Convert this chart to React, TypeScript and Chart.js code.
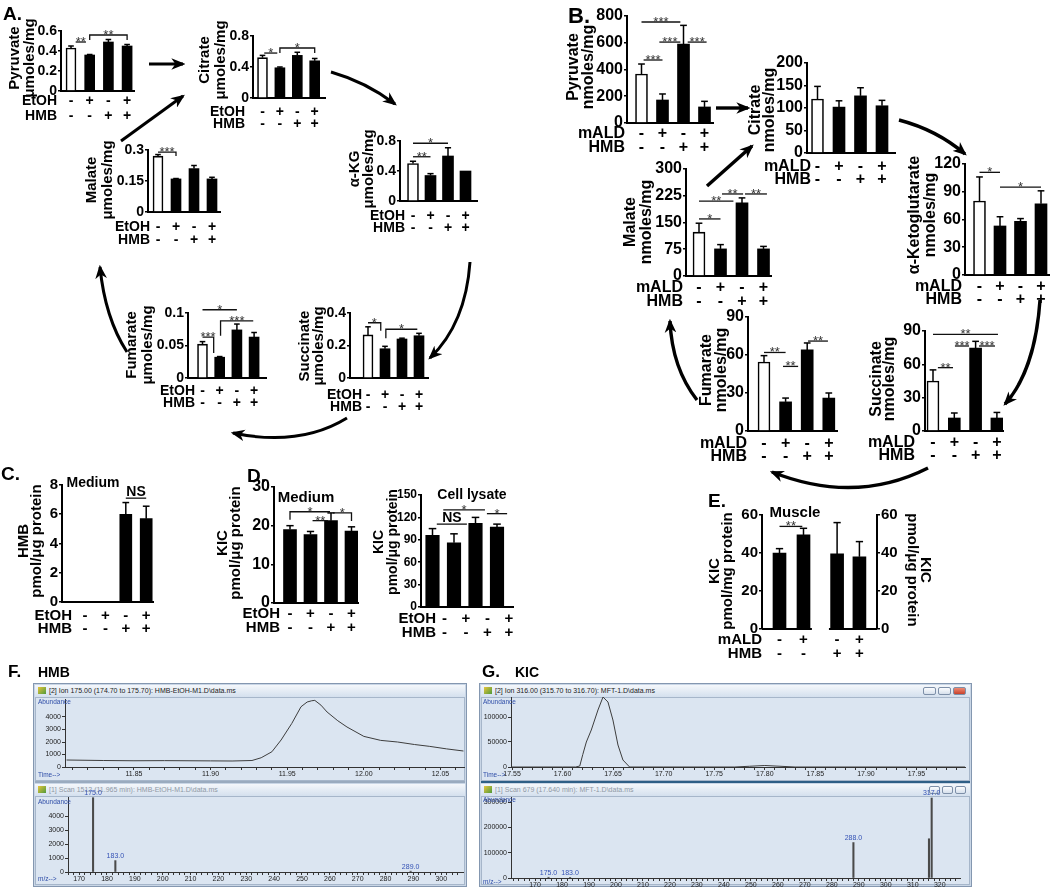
import React, { useEffect, useRef } from 'react';
import { Chart, registerables } from 'chart.js';

Chart.register(...registerables);

const FONT = '"Liberation Sans", Arial, Helvetica, sans-serif';
Chart.defaults.font.family = FONT;
const W = '#ffffff';
const K = '#000000';

// ---------------- data ----------------
const ETOH = ['-', '+', '-', '+'];
const HMB = ['-', '-', '+', '+'];
const MALD = ['-', '+', '-', '+'];

const A_PYRUVATE = [0.43, 0.36, 0.49, 0.45];
const A_PYRUVATE_ERR = [0.02, 0.005, 0.025, 0.015];
const A_CITRATE = [0.52, 0.39, 0.55, 0.48];
const A_CITRATE_ERR = [0.03, 0.01, 0.04, 0.03];
const A_AKG = [0.5, 0.34, 0.6, 0.4];
const A_AKG_ERR = [0.03, 0.025, 0.11, 0];
const A_MALATE = [0.27, 0.16, 0.21, 0.16];
const A_MALATE_ERR = [0.008, 0.002, 0.015, 0.008];
const A_FUMARATE = [0.052, 0.032, 0.074, 0.063];
const A_FUMARATE_ERR = [0.004, 0.001, 0.009, 0.007];
const A_SUCCINATE = [0.265, 0.18, 0.24, 0.26];
const A_SUCCINATE_ERR = [0.05, 0.015, 0.005, 0.015];

const B_PYRUVATE = [366, 172, 590, 120];
const B_PYRUVATE_ERR = [75, 45, 140, 42];
const B_CITRATE = [120, 102, 127, 105];
const B_CITRATE_ERR = [28, 14, 18, 12];
const B_AKG = [80, 53, 58, 77];
const B_AKG_ERR = [26, 10, 3, 14];
const B_MALATE = [123, 76, 205, 76];
const B_MALATE_ERR = [25, 12, 14, 7];
const B_FUMARATE = [54.5, 23, 64, 26];
const B_FUMARATE_ERR = [5, 3, 5.5, 4];
const B_SUCCINATE = [45, 11.7, 74.7, 11.7];
const B_SUCCINATE_ERR = [10, 4.5, 6, 5];

const C_HMB = [0, 0, 6.0, 5.7];
const C_HMB_ERR = [0, 0, 0.8, 0.85];
const D_KIC_MEDIUM = [19, 17.7, 21.3, 18.6];
const D_KIC_MEDIUM_ERR = [1, 0.8, 2, 1.1];
const D_KIC_LYSATE = [96, 86, 112, 107];
const D_KIC_LYSATE_ERR = [9, 12, 8, 4];
const E_KIC_MUSCLE = [40, 49.5, 39.5, 38];
const E_KIC_MUSCLE_ERR = [2.3, 3.5, 16.5, 8];

const F_TIC_TIME = [11.806, 11.83, 11.85, 11.87, 11.9, 11.914, 11.927, 11.933, 11.94, 11.946, 11.953, 11.959, 11.963, 11.966, 11.968, 11.972, 11.976, 11.983, 11.989, 12.0, 12.011, 12.022, 12.033, 12.043, 12.054, 12.065];
const F_TIC_ABUND = [560, 520, 500, 510, 490, 480, 520, 740, 1220, 2160, 3490, 4820, 5200, 5300, 5330, 4950, 4400, 3700, 3200, 2450, 2130, 2000, 1800, 1650, 1450, 1280];
const F_TIC_YTICKS = [0, 1000, 2000, 3000, 4000];
const F_MS_MZ = [175, 183, 289];
const F_MS_INT = [5350, 820, 60];
const F_MS_LABEL = ['175.0', '183.0', '289.0'];
const F_MS_YTICKS = [0, 1000, 2000, 3000, 4000];

const G_TIC_TIME = [17.549, 17.6, 17.613, 17.617, 17.62, 17.6235, 17.6284, 17.635, 17.64, 17.6449, 17.6498, 17.6548, 17.6597, 17.6663, 17.7, 17.77, 17.785, 17.8, 17.815, 17.83, 17.9, 17.998];
const G_TIC_ABUND = [0, 0, 0, 2000, 25000, 50000, 74000, 114000, 140000, 130000, 94000, 44000, 14000, 0, 0, 0, 1500, 3000, 1500, 0, 0, 0];
const G_TIC_YTICKS = [0, 50000, 100000];
const G_MS_MZ = [175, 183, 288, 316, 317];
const G_MS_INT = [3000, 2500, 140000, 155000, 316000];
const G_MS_LABEL = ['175.0', '183.0', '288.0', '', '317.0'];
const G_MS_YTICKS = [0, 100000, 200000, 300000];

// ---------------- layout ----------------
const X4 = [0, 1, 2, 3];
const E_XPOS = [0, 1, 2.4, 3.33];

type Bracket = { a: number; b: number; y: number; t: string; dl?: number; dr?: number };
type TitleSpec = { lines: string[]; xs: number[]; yc: number; size: number };
type Rows = { labels: string[]; signs: string[][]; ys: number[]; right: number; size: number; dx?: number };
type Panel = {
  area: number[];
  c0: number;
  u: number;
  xpos: number[];
  yMax: number;
  yStep: number;
  values: number[];
  errors: number[];
  fills: string[];
  barW: number;
  tick: number;
  title: TitleSpec;
  title2?: TitleSpec;
  rows: Rows;
  brackets: Bracket[];
  notes?: { t: string; x: number; y: number; size: number }[];
  segs?: number[][];
};

const rowsE = (size: number, ys: number[], right: number, dx = 0): Rows => ({ labels: ['EtOH', 'HMB'], signs: [ETOH, HMB], ys, right, size, dx });
const rowsM = (size: number, ys: number[], right: number, dx = 0): Rows => ({ labels: ['mALD', 'HMB'], signs: [MALD, HMB], ys, right, size, dx });
const WK = [W, K, K, K];
const KK = [K, K, K, K];

const PANELS: Panel[] = [
  {
    area: [61, 31, 134, 91], c0: 71, u: 18.7, xpos: X4, yMax: 0.6, yStep: 0.2,
    values: A_PYRUVATE, errors: A_PYRUVATE_ERR, fills: WK, barW: 10, tick: 14,
    title: { lines: ['Pyruvate', 'μmoles/mg'], xs: [15, 30], yc: 58, size: 15 },
    rows: rowsE(14, [101, 116], 57),
    brackets: [{ a: 0.25, b: 0.8, y: 0.49, t: '**' }, { a: 1, b: 3, y: 0.56, t: '**', dl: 5, dr: 5 }],
  },
  {
    area: [253, 36, 325, 98], c0: 262.5, u: 17.4, xpos: X4, yMax: 0.8, yStep: 0.4,
    values: A_CITRATE, errors: A_CITRATE_ERR, fills: WK, barW: 10, tick: 14,
    title: { lines: ['Citrate', 'μmoles/mg'], xs: [205, 221], yc: 60, size: 15 },
    rows: rowsE(14, [112, 124], 245),
    brackets: [{ a: 0.1, b: 0.85, y: 0.58, t: '*' }, { a: 1, b: 3, y: 0.645, t: '*', dl: 5, dr: 5 }],
  },
  {
    area: [400, 141, 477, 201], c0: 413, u: 17.5, xpos: X4, yMax: 0.8, yStep: 0.4,
    values: A_AKG, errors: A_AKG_ERR, fills: WK, barW: 11, tick: 14,
    title: { lines: ['α-KG', 'μmoles/mg'], xs: [355, 369], yc: 169, size: 15 },
    rows: rowsE(14, [216, 228], 405),
    brackets: [{ a: 0, b: 1, y: 0.59, t: '**' }, { a: 0, b: 2, y: 0.77, t: '*' }],
  },
  {
    area: [148, 150, 220, 212], c0: 158, u: 18, xpos: X4, yMax: 0.3, yStep: 0.15,
    values: A_MALATE, errors: A_MALATE_ERR, fills: WK, barW: 10, tick: 14,
    title: { lines: ['Malate', 'μmoles/mg'], xs: [92, 108], yc: 180, size: 15 },
    rows: rowsE(14, [227, 240], 150),
    brackets: [{ a: 0, b: 1, y: 0.29, t: '***', dr: 4 }],
  },
  {
    area: [188, 313, 266, 378], c0: 202.5, u: 17.2, xpos: X4, yMax: 0.1, yStep: 0.05,
    values: A_FUMARATE, errors: A_FUMARATE_ERR, fills: WK, barW: 10, tick: 14,
    title: { lines: ['Fumarate', 'μmoles/mg'], xs: [132, 148], yc: 345, size: 15 },
    rows: rowsE(14, [391, 403], 195),
    brackets: [
      { a: 0, b: 0.65, y: 0.063, t: '***', dr: 16 },
      { a: 0, b: 2, y: 0.105, t: '*' },
      { a: 1.05, b: 2.95, y: 0.088, t: '***', dl: 15 },
    ],
  },
  {
    area: [350, 313, 428, 378], c0: 368, u: 17, xpos: X4, yMax: 0.4, yStep: 0.2,
    values: A_SUCCINATE, errors: A_SUCCINATE_ERR, fills: WK, barW: 10, tick: 14,
    title: { lines: ['Succinate', 'μmoles/mg'], xs: [305, 319], yc: 346, size: 15 },
    rows: rowsE(14, [395, 407], 362),
    brackets: [{ a: 0, b: 0.75, y: 0.34, t: '*', dr: 8 }, { a: 1.05, b: 2.9, y: 0.3, t: '*', dl: 9 }],
  },
  {
    area: [627, 16, 713, 123], c0: 641.5, u: 21, xpos: X4, yMax: 800, yStep: 200,
    values: B_PYRUVATE, errors: B_PYRUVATE_ERR, fills: WK, barW: 12, tick: 16,
    title: { lines: ['Pyruvate', 'nmoles/mg'], xs: [574, 589], yc: 67, size: 16 },
    rows: rowsM(16, [134, 148], 625),
    brackets: [
      { a: 0.1, b: 1, y: 471, t: '***' },
      { a: 0, b: 1.85, y: 755, t: '***' },
      { a: 0.85, b: 1.85, y: 605, t: '***' },
      { a: 2.2, b: 3.1, y: 605, t: '***' },
    ],
  },
  {
    area: [807, 63, 895, 153], c0: 817.5, u: 21.5, xpos: X4, yMax: 200, yStep: 50,
    values: B_CITRATE, errors: B_CITRATE_ERR, fills: WK, barW: 12, tick: 16,
    title: { lines: ['Citrate', 'nmoles/mg'], xs: [756, 770], yc: 110, size: 16 },
    rows: rowsM(16, [167, 180], 811),
    brackets: [],
  },
  {
    area: [965, 164, 1049, 275], c0: 979.5, u: 20.5, xpos: X4, yMax: 120, yStep: 30,
    values: B_AKG, errors: B_AKG_ERR, fills: WK, barW: 12, tick: 16,
    title: { lines: ['α-Ketoglutarate', 'nmoles/mg'], xs: [915, 931], yc: 215, size: 16 },
    rows: rowsM(16, [287, 300], 962),
    brackets: [{ a: 0, b: 1, y: 111, t: '*' }, { a: 1, b: 3, y: 95, t: '*' }],
  },
  {
    area: [686, 169, 771, 276], c0: 699, u: 21.5, xpos: X4, yMax: 300, yStep: 75,
    values: B_MALATE, errors: B_MALATE_ERR, fills: WK, barW: 12, tick: 16,
    title: { lines: ['Malate', 'nmoles/mg'], xs: [631, 647], yc: 222, size: 16 },
    rows: rowsM(16, [288, 302], 683),
    brackets: [
      { a: 0, b: 1, y: 160, t: '*' },
      { a: 0, b: 1.6, y: 210, t: '**' },
      { a: 1.07, b: 2.05, y: 230, t: '**' },
      { a: 2.14, b: 3.16, y: 230, t: '**' },
    ],
  },
  {
    area: [748, 317, 837, 431], c0: 764, u: 21.6, xpos: X4, yMax: 90, yStep: 30,
    values: B_FUMARATE, errors: B_FUMARATE_ERR, fills: WK, barW: 12, tick: 16,
    title: { lines: ['Fumarate', 'nmoles/mg'], xs: [707, 722], yc: 370, size: 16 },
    rows: rowsM(16, [444, 457], 747),
    brackets: [
      { a: 0, b: 1, y: 62, t: '**' },
      { a: 0.88, b: 1.58, y: 51, t: '**' },
      { a: 2.04, b: 2.96, y: 71, t: '**' },
    ],
  },
  {
    area: [925, 331, 1003, 431], c0: 933, u: 21.3, xpos: X4, yMax: 90, yStep: 30,
    values: B_SUCCINATE, errors: B_SUCCINATE_ERR, fills: WK, barW: 12, tick: 16,
    title: { lines: ['Succinate', 'nmoles/mg'], xs: [877, 890], yc: 379, size: 16 },
    rows: rowsM(16, [443, 456], 915),
    brackets: [
      { a: 0.23, b: 0.94, y: 57, t: '**' },
      { a: 0, b: 3.05, y: 87, t: '**' },
      { a: 1.03, b: 1.69, y: 76.5, t: '***' },
      { a: 2.16, b: 2.91, y: 76.5, t: '***' },
    ],
  },
  {
    area: [62, 485, 153, 602], c0: 85, u: 20.4, xpos: X4, yMax: 8, yStep: 2,
    values: C_HMB, errors: C_HMB_ERR, fills: KK, barW: 12, tick: 15,
    title: { lines: ['HMB', 'pmol/μg protein'], xs: [24, 37], yc: 541, size: 15 },
    rows: rowsE(15, [616, 629], 72),
    brackets: [{ a: 2, b: 3, y: 7.1, t: 'NS' }],
    notes: [{ t: 'Medium', x: 93, y: 483, size: 14 }],
  },
  {
    area: [274, 487, 358, 603], c0: 290, u: 20.5, xpos: X4, yMax: 30, yStep: 10,
    values: D_KIC_MEDIUM, errors: D_KIC_MEDIUM_ERR, fills: KK, barW: 13, tick: 16,
    title: { lines: ['KIC', 'pmol/μg protein'], xs: [223, 236], yc: 543, size: 15 },
    rows: rowsE(15, [614, 628], 280),
    brackets: [
      { a: 0, b: 1.95, y: 23.6, t: '*', dl: 8 },
      { a: 1.1, b: 1.85, y: 21.3, t: '**' },
      { a: 2.1, b: 3, y: 23.3, t: '*', dr: 8 },
    ],
    notes: [{ t: 'Medium', x: 306, y: 498, size: 15 }],
  },
  {
    area: [421, 495, 513, 607], c0: 432.5, u: 21.5, xpos: X4, yMax: 150, yStep: 30,
    values: D_KIC_LYSATE, errors: D_KIC_LYSATE_ERR, fills: KK, barW: 13.5, tick: 12,
    title: { lines: ['KIC', 'pmol/μg protein'], xs: [379, 393], yc: 542, size: 14 },
    rows: rowsE(15, [619, 633], 436, 12),
    brackets: [
      { a: 0.2, b: 1.6, y: 111, t: 'NS' },
      { a: 0.5, b: 2.44, y: 130, t: '*' },
      { a: 2.53, b: 3.47, y: 125, t: '*' },
    ],
    notes: [{ t: 'Cell lysate', x: 472, y: 495, size: 14 }],
  },
  {
    area: [762, 515, 877, 629], c0: 779.5, u: 24, xpos: E_XPOS, yMax: 60, yStep: 10,
    values: E_KIC_MUSCLE, errors: E_KIC_MUSCLE_ERR, fills: KK, barW: 13, tick: 15,
    title: { lines: ['KIC', 'pmol/mg protein'], xs: [715, 728], yc: 571, size: 15 },
    title2: { lines: ['KIC', 'pmol/μg protein'], xs: [925, 912], yc: 570, size: 15 },
    rows: rowsM(15, [640, 654], 762),
    brackets: [{ a: 0, b: 0.95, y: 54, t: '**' }],
    notes: [{ t: 'Muscle', x: 795, y: 513, size: 15 }],
    segs: [[-0.73, 1.35], [2.06, 4.06]],
  },
];

function fmt(v: number) {
  return String(Math.round(v * 10000) / 10000);
}

function panelPlugin(p: Panel, bx: number, by: number) {
  return {
    id: 'panelDecor',
    afterDraw(chart: any) {
      const ctx = chart.ctx as CanvasRenderingContext2D;
      const xs = chart.scales.x;
      const ys = chart.scales.y;
      ctx.save();
      ctx.strokeStyle = '#000';
      ctx.fillStyle = '#000';
      ctx.lineCap = 'butt';
      const line = (ax: number, ay: number, bxp: number, byp: number) => {
        ctx.beginPath();
        ctx.moveTo(ax, ay);
        ctx.lineTo(bxp, byp);
        ctx.stroke();
      };
      if (p.segs) {
        ctx.lineWidth = 2;
        for (const s of p.segs) line(xs.getPixelForValue(s[0]), ys.bottom, xs.getPixelForValue(s[1]), ys.bottom);
      }
      // error bars
      ctx.lineWidth = 1.5;
      p.values.forEach((v, i) => {
        const e = p.errors[i];
        if (!e) return;
        const x = xs.getPixelForValue(p.xpos[i]);
        const yt = ys.getPixelForValue(v);
        const ye = ys.getPixelForValue(v + e);
        const cw = p.barW * 0.28;
        line(x, yt, x, ye);
        line(x - cw, ye, x + cw, ye);
      });
      // significance brackets
      for (const b of p.brackets) {
        const xa = xs.getPixelForValue(b.a);
        const xb = xs.getPixelForValue(b.b);
        const yy = ys.getPixelForValue(b.y);
        ctx.lineWidth = 1.3;
        ctx.strokeStyle = '#111';
        ctx.beginPath();
        ctx.moveTo(xa, yy + (b.dl || 0));
        ctx.lineTo(xa, yy);
        ctx.lineTo(xb, yy);
        ctx.lineTo(xb, yy + (b.dr || 0));
        ctx.stroke();
        if (b.t) {
          const star = /^\*+$/.test(b.t);
          ctx.fillStyle = star ? '#333' : '#000';
          ctx.font = star ? `13px ${FONT}` : `bold 14px ${FONT}`;
          ctx.textAlign = 'center';
          ctx.textBaseline = 'alphabetic';
          ctx.fillText(b.t, (xa + xb) / 2, star ? yy + 4 : yy - 2);
        }
      }
      ctx.fillStyle = '#000';
      // treatment rows
      ctx.font = `bold ${p.rows.size}px ${FONT}`;
      ctx.textBaseline = 'middle';
      p.rows.labels.forEach((lab, r) => {
        const y = p.rows.ys[r] - by;
        ctx.textAlign = 'right';
        ctx.fillText(lab, p.rows.right - bx, y);
        ctx.textAlign = 'center';
        p.rows.signs[r].forEach((s, i) => {
          ctx.fillText(s, xs.getPixelForValue(p.xpos[i]) + (p.rows.dx || 0), y);
        });
      });
      // axis titles
      const drawTitle = (t: TitleSpec, rot: number) => {
        ctx.font = `bold ${t.size}px ${FONT}`;
        ctx.textAlign = 'center';
        ctx.textBaseline = 'middle';
        t.lines.forEach((ln, i) => {
          ctx.save();
          ctx.translate(t.xs[i] - bx, t.yc - by);
          ctx.rotate(rot);
          ctx.fillText(ln, 0, 0);
          ctx.restore();
        });
      };
      drawTitle(p.title, -Math.PI / 2);
      if (p.title2) drawTitle(p.title2, Math.PI / 2);
      if (p.notes) {
        for (const n of p.notes) {
          ctx.font = `bold ${n.size}px ${FONT}`;
          ctx.textAlign = 'center';
          ctx.textBaseline = 'middle';
          ctx.fillText(n.t, n.x - bx, n.y - by);
        }
      }
      ctx.restore();
    },
  };
}

function buildBarConfig(p: Panel, bx: number, by: number, bw: number, bh: number): any {
  const [x0, y0, x1, y1] = p.area;
  const xMin = -(p.c0 - x0) / p.u;
  const xMax = (x1 - p.c0) / p.u;
  const tickFont = { family: FONT, size: p.tick, weight: 'bold' as const };
  const yAxis = (pos: string) => ({
    position: pos,
    min: 0,
    max: p.yMax,
    ticks: { stepSize: p.yStep, font: tickFont, color: '#000', padding: 1, callback: (v: any) => fmt(Number(v)) },
    grid: { display: true, drawOnChartArea: false, drawTicks: true, tickLength: 3, color: '#000', lineWidth: 1.6 },
    border: { display: true, color: '#000', width: 2 },
  });
  const scales: any = {
    x: {
      type: 'linear',
      offset: false,
      min: xMin,
      max: xMax,
      ticks: { display: false },
      grid: { display: false, offset: false },
      border: { display: !p.segs, color: '#000', width: 2 },
      afterFit: (s: any) => { s.height = by + bh - y1; },
    },
    y: { ...yAxis('left'), afterFit: (s: any) => { s.width = x0 - bx; } },
  };
  if (p.title2) scales.y2 = { ...yAxis('right'), afterFit: (s: any) => { s.width = bx + bw - x1; } };
  return {
    type: 'bar',
    data: {
      datasets: [
        {
          data: p.values.map((v, i) => ({ x: p.xpos[i], y: v })),
          backgroundColor: p.fills,
          borderColor: '#000',
          borderWidth: p.fills.map((f) => (f === W ? 1.6 : 0)),
          barThickness: p.barW,
          borderSkipped: 'bottom',
        },
      ],
    },
    options: {
      animation: false,
      responsive: false,
      maintainAspectRatio: false,
      layout: { padding: { left: 0, top: y0 - by, right: p.title2 ? 0 : bx + bw - x1, bottom: 0 } },
      plugins: { legend: { display: false }, tooltip: { enabled: false } },
      scales,
    },
    plugins: [panelPlugin(p, bx, by)],
  };
}

function BarPanel({ p }: { p: Panel }) {
  const ref = useRef<HTMLCanvasElement | null>(null);
  const [x0, y0, x1] = p.area;
  const bx = Math.floor(Math.min(Math.min(...p.title.xs) - 14, p.rows.right - 52));
  const by = Math.floor(y0 - 44);
  const rightEdge = p.title2 ? Math.max(...p.title2.xs) + 14 : x1 + 18;
  const bw = Math.ceil(rightEdge - bx);
  const bh = Math.ceil(Math.max(...p.rows.ys) + 12 - by);
  useEffect(() => {
    if (!ref.current) return;
    const chart = new Chart(ref.current, buildBarConfig(p, bx, by, bw, bh));
    return () => chart.destroy();
  }, []);
  return <canvas ref={ref} width={bw} height={bh} style={{ position: 'absolute', left: bx, top: by, width: bw, height: bh }} />;
}

// ---------------- GC/MS windows ----------------
type Spec = {
  box: number[];
  area: number[];
  xMin: number;
  xMax: number;
  xStep: number;
  xLabel: (v: number) => string;
  yMax: number;
  yTicks: number[];
  kind: 'line' | 'bar';
  xs: number[];
  ys: number[];
  labels?: string[];
};

const chromLabel = (v: number) => (Math.round(v * 100) % 5 === 0 ? v.toFixed(2) : '');
const mzLabel = (v: number) => (Math.round(v) % 10 === 0 ? String(Math.round(v)) : '');

const SPECS: Spec[] = [
  { box: [35, 781, 430], area: [65, 699, 465, 767], xMin: 11.805, xMax: 12.066, xStep: 0.01, xLabel: chromLabel, yMax: 5440, yTicks: F_TIC_YTICKS, kind: 'line', xs: F_TIC_TIME, ys: F_TIC_ABUND },
  { box: [35, 887, 430], area: [68, 797, 463, 872], xMin: 166, xMax: 307.8, xStep: 2, xLabel: mzLabel, yMax: 5400, yTicks: F_MS_YTICKS, kind: 'bar', xs: F_MS_MZ, ys: F_MS_INT, labels: F_MS_LABEL },
  { box: [481, 781, 489], area: [511, 697, 965, 767], xMin: 17.549, xMax: 17.998, xStep: 0.01, xLabel: chromLabel, yMax: 140000, yTicks: G_TIC_YTICKS, kind: 'line', xs: G_TIC_TIME, ys: G_TIC_ABUND },
  { box: [481, 888, 489], area: [511, 797, 960, 878], xMin: 161.1, xMax: 327.5, xStep: 2, xLabel: mzLabel, yMax: 320000, yTicks: G_MS_YTICKS, kind: 'bar', xs: G_MS_MZ, ys: G_MS_INT, labels: G_MS_LABEL },
];

function buildSpecConfig(s: Spec, cx: number, cy: number, cw: number, ch: number): any {
  const [x0, y0, x1, y1] = s.area;
  const f = { family: FONT, size: 7 };
  const pts = s.xs.map((x, i) => ({ x, y: s.ys[i] }));
  const labelPlugin = {
    id: 'peakLabels',
    afterDraw(chart: any) {
      if (!s.labels) return;
      const ctx = chart.ctx as CanvasRenderingContext2D;
      ctx.save();
      ctx.font = `7px ${FONT}`;
      ctx.fillStyle = '#3553b5';
      ctx.textAlign = 'center';
      ctx.textBaseline = 'bottom';
      s.labels.forEach((lab, i) => {
        if (!lab) return;
        const x = chart.scales.x.getPixelForValue(s.xs[i]);
        const y = chart.scales.y.getPixelForValue(s.ys[i]);
        ctx.fillText(lab, x, Math.max(y - 1, 9));
      });
      ctx.restore();
    },
  };
  return {
    type: s.kind,
    data: {
      datasets: [
        s.kind === 'line'
          ? { data: pts, borderColor: '#3d3d3d', borderWidth: 1, pointRadius: 0, tension: 0, fill: false }
          : { data: pts, backgroundColor: '#4a4a4a', barThickness: 1.4 },
      ],
    },
    options: {
      animation: false,
      responsive: false,
      maintainAspectRatio: false,
      layout: { padding: { left: 0, top: y0 - cy, right: cx + cw - x1, bottom: 0 } },
      plugins: { legend: { display: false }, tooltip: { enabled: false } },
      scales: {
        x: {
          type: 'linear',
          offset: false,
          min: s.xMin,
          max: s.xMax,
          ticks: { stepSize: s.xStep, autoSkip: false, includeBounds: false, maxRotation: 0, minRotation: 0, font: f, color: '#222', padding: 0, callback: (v: any) => s.xLabel(Number(v)) },
          grid: { display: true, offset: false, drawOnChartArea: false, drawTicks: true, tickLength: 3, color: '#333', lineWidth: 1 },
          border: { display: true, color: '#333', width: 1 },
          afterFit: (sc: any) => { sc.height = cy + ch - y1; },
        },
        y: {
          min: 0,
          max: s.yMax,
          afterBuildTicks: (sc: any) => { sc.ticks = s.yTicks.map((v) => ({ value: v })); },
          ticks: { font: f, color: '#222', padding: 1, callback: (v: any) => String(v) },
          grid: { display: true, drawOnChartArea: false, drawTicks: true, tickLength: 3, color: '#333', lineWidth: 1 },
          border: { display: true, color: '#333', width: 1 },
          afterFit: (sc: any) => { sc.width = x0 - cx; },
        },
      },
    },
    plugins: [labelPlugin],
  };
}

function SpecChart({ s }: { s: Spec }) {
  const ref = useRef<HTMLCanvasElement | null>(null);
  const cx = s.box[0];
  const cy = s.area[1] - 10;
  const cw = s.box[2];
  const ch = s.box[1] - cy;
  useEffect(() => {
    if (!ref.current) return;
    const chart = new Chart(ref.current, buildSpecConfig(s, cx, cy, cw, ch));
    return () => chart.destroy();
  }, []);
  return <canvas ref={ref} width={cw} height={ch} style={{ position: 'absolute', left: cx, top: cy, width: cw, height: ch }} />;
}

function WinButtons({ big }: { big: boolean }) {
  const b = (bg: string, key: string) => (
    <div key={key} style={{ width: big ? 13 : 11, height: 8, background: bg, border: '1px solid #7d8fa8', borderRadius: 2, boxSizing: 'border-box' }} />
  );
  return (
    <div style={{ position: 'absolute', right: 4, top: 2, display: 'flex', gap: 2 }}>
      {b('linear-gradient(#fbfcfe,#d6e0ec)', 'a')}
      {b('linear-gradient(#fbfcfe,#d6e0ec)', 'b')}
      {b(big ? 'linear-gradient(#ee8a73,#c8412c)' : 'linear-gradient(#fbfcfe,#d6e0ec)', 'c')}
    </div>
  );
}

function TitleBar({ x, y, w, text, grey, buttons }: { x: number; y: number; w: number; text: string; grey: boolean; buttons: number }) {
  return (
    <div style={{ position: 'absolute', left: x, top: y, width: w, height: 12, background: 'linear-gradient(#f4f7fb,#d4e0ee)', fontSize: 7, lineHeight: '12px', color: grey ? '#8f98a5' : '#222', whiteSpace: 'nowrap', overflow: 'hidden', fontFamily: FONT }}>
      <span style={{ display: 'inline-block', width: 8, height: 7, margin: '0 3px 0 3px', verticalAlign: '-1px', background: 'linear-gradient(135deg,#e7c53c,#4f9a3a)' }} />
      {text}
      {buttons ? <WinButtons big={buttons === 2} /> : null}
    </div>
  );
}

function Win({ x, y, w, h, t1, t2, buttons }: { x: number; y: number; w: number; h: number; t1: string; t2: string; buttons: boolean }) {
  const iw = w - 4;
  const pane = { position: 'absolute' as const, background: '#dbe5f1', boxSizing: 'border-box' as const, border: '1px solid #a6b6ca' };
  return (
    <>
      <div style={{ position: 'absolute', left: x, top: y, width: w, height: h, boxSizing: 'border-box', border: '1px solid #8497b0', background: '#c9d6e6' }} />
      <TitleBar x={x + 2} y={y + 2} w={iw} text={t1} grey={false} buttons={buttons ? 2 : 0} />
      <div style={{ ...pane, left: x + 2, top: y + 14, width: iw, height: 84 }} />
      <div style={{ position: 'absolute', left: x + 2, top: y + 98, width: iw, height: 2, background: buttons ? '#2f5f86' : '#9aabbf' }} />
      <TitleBar x={x + 2} y={y + 101} w={iw} text={t2} grey={true} buttons={buttons ? 1 : 0} />
      <div style={{ ...pane, left: x + 2, top: y + 113, width: iw, height: h - 115 }} />
    </>
  );
}

function Tiny({ x, y, t }: { x: number; y: number; t: string }) {
  return <div style={{ position: 'absolute', left: x, top: y, fontSize: 6.5, lineHeight: '7px', color: '#2f4ea8', fontFamily: FONT, whiteSpace: 'nowrap' }}>{t}</div>;
}

// ---------------- arrows & letters ----------------
const ARROWS_A = [
  'M149,64 L183,64',
  'M121,141 L183,96',
  'M331,72 Q366,82 395,104',
  'M470,262 C467,305 453,336 430,358',
  'M347,418 Q300,447 233,433',
  'M127,352 Q105,318 100,267',
];
const ARROWS_B = [
  'M716,108 L748,108',
  'M707,186 L752,146',
  'M899,120 Q937,130 965,154',
  'M1040,300 C1037,345 1025,382 1005,404',
  'M928,468 Q855,505 772,472',
  'M697,400 Q672,368 670,321',
];

const LETTERS = [
  { t: 'A.', x: 3, y: 20, s: 19 },
  { t: 'B.', x: 568, y: 23, s: 22 },
  { t: 'C.', x: 1, y: 480, s: 19 },
  { t: 'D.', x: 247, y: 482, s: 19 },
  { t: 'E.', x: 708, y: 507, s: 19 },
  { t: 'F.', x: 8, y: 677, s: 17 },
  { t: 'HMB', x: 38, y: 677, s: 14 },
  { t: 'G.', x: 482, y: 677, s: 17 },
  { t: 'KIC', x: 515, y: 677, s: 14 },
];

export default function App() {
  return (
    <div style={{ position: 'absolute', left: 0, top: 0, width: 1050, height: 888, overflow: 'hidden', background: '#fff', fontFamily: FONT }}>
      {PANELS.map((p, i) => (
        <BarPanel key={i} p={p} />
      ))}
      <Win x={33} y={683} w={434} h={204} t1={'[2] Ion 175.00 (174.70 to 175.70): HMB-EtOH-M1.D\\data.ms'} t2={'[1] Scan 1512 (11.965 min): HMB-EtOH-M1.D\\data.ms'} buttons={false} />
      <Win x={479} y={683} w={493} h={204} t1={'[2] Ion 316.00 (315.70 to 316.70): MFT-1.D\\data.ms'} t2={'[1] Scan 679 (17.640 min): MFT-1.D\\data.ms'} buttons={true} />
      {SPECS.map((s, i) => (
        <SpecChart key={i} s={s} />
      ))}
      <Tiny x={38} y={698} t="Abundance" />
      <Tiny x={38} y={771} t="Time-->" />
      <Tiny x={38} y={798} t="Abundance" />
      <Tiny x={38} y={875} t="m/z-->" />
      <Tiny x={483} y={698} t="Abundance" />
      <Tiny x={483} y={771} t="Time-->" />
      <Tiny x={483} y={796} t="Abundance" />
      <Tiny x={483} y={878} t="m/z-->" />
      <svg width={1050} height={888} style={{ position: 'absolute', left: 0, top: 0, pointerEvents: 'none' }}>
        <defs>
          <marker id="ah" viewBox="0 0 12 10" refX="10" refY="5" markerWidth="14" markerHeight="12" markerUnits="userSpaceOnUse" orient="auto">
            <path d="M0,0 L12,5 L0,10 L3.5,5 z" fill="#000" />
          </marker>
        </defs>
        {ARROWS_A.map((d, i) => (
          <path key={'a' + i} d={d} stroke="#000" strokeWidth={3} fill="none" markerEnd="url(#ah)" />
        ))}
        {ARROWS_B.map((d, i) => (
          <path key={'b' + i} d={d} stroke="#000" strokeWidth={3.4} fill="none" markerEnd="url(#ah)" />
        ))}
        {LETTERS.map((l, i) => (
          <text key={i} x={l.x} y={l.y} fontFamily={FONT} fontWeight="bold" fontSize={l.s} fill="#000">
            {l.t}
          </text>
        ))}
      </svg>
    </div>
  );
}
